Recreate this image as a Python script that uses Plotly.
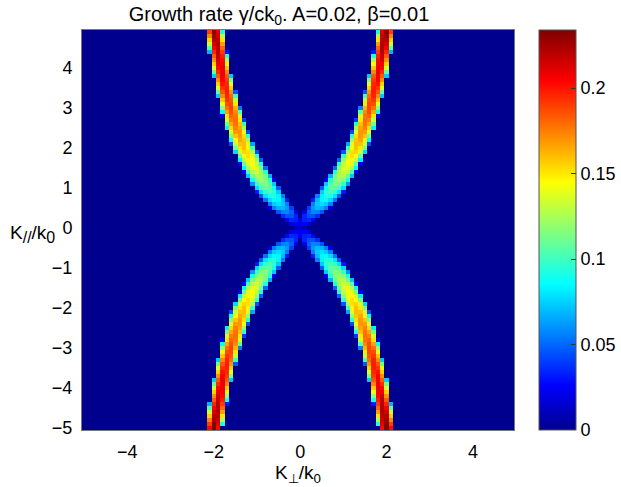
import numpy as np
import plotly.graph_objects as go

# Grid of wavenumbers (as in the original imagesc)
K_PERP = np.round(np.arange(-5.0, 5.0, 0.1), 2)
K_PAR = np.round(np.arange(-5.0, 5.0, 0.1), 2)

# Ridge description, as a function of |K_par|
KPAR_NODES = [0.0, 0.25, 0.5, 1.0, 1.5, 2.0, 2.5, 3.0, 3.5, 4.0, 4.5, 5.0]
RIDGE_CENTER = [0.0, 0.21, 0.43, 0.78, 1.07, 1.31, 1.48, 1.62, 1.74, 1.84, 1.92, 2.00]
RIDGE_PEAK = [0.015, 0.04, 0.07, 0.11, 0.14, 0.16, 0.175, 0.19, 0.201, 0.212, 0.223, 0.234]
RIDGE_HALFWIDTH = [0.15, 0.22, 0.28, 0.31, 0.29, 0.27, 0.25, 0.23, 0.22, 0.21, 0.205, 0.20]

CBAR_TICKS = [0, 0.05, 0.1, 0.15, 0.2]
CBAR_TEXT = ["0", "0.05", "0.1", "0.15", "0.2"]
X_TICKS = [-4, -2, 0, 2, 4]
Y_TICKS = [-5, -4, -3, -2, -1, 0, 1, 2, 3, 4]

Z = []
for kp in K_PAR:
    a = abs(kp)
    c = np.interp(a, KPAR_NODES, RIDGE_CENTER)
    p = np.interp(a, KPAR_NODES, RIDGE_PEAK)
    w = np.interp(a, KPAR_NODES, RIDGE_HALFWIDTH)
    u = (np.abs(K_PERP) - c) / w
    Z.append(p * np.sqrt(np.clip(1 - u ** 2, 0, None)))
Z = np.array(Z)

jet = [
    [0.0, "rgb(0,0,143)"],
    [0.111, "rgb(0,0,255)"],
    [0.365, "rgb(0,255,255)"],
    [0.619, "rgb(255,255,0)"],
    [0.873, "rgb(255,0,0)"],
    [1.0, "rgb(128,0,0)"],
]

FONT = "Liberation Sans, Arial, sans-serif"
MINUS = "\u2212"

fig = go.Figure(
    go.Heatmap(
        x=K_PERP,
        y=K_PAR,
        z=Z,
        zmin=0,
        zmax=0.234,
        colorscale=jet,
        colorbar=dict(
            x=(539 - 82) / 432,
            xanchor="left",
            xpad=0,
            ypad=0,
            y=0.5,
            yanchor="middle",
            len=1.0,
            lenmode="fraction",
            thickness=37,
            tickvals=CBAR_TICKS,
            ticktext=CBAR_TEXT,
            ticks="inside",
            ticklen=5,
            tickcolor="#333",
            outlinewidth=1,
            outlinecolor="#555",
            tickfont=dict(size=18, family=FONT, color="black"),
        ),
    )
)

fig.update_layout(
    width=621,
    height=487,
    margin=dict(l=82, r=107, t=30, b=57, autoexpand=False),
    paper_bgcolor="white",
    plot_bgcolor="white",
    font=dict(family=FONT, size=18, color="black"),
    title=dict(
        text="Growth rate γ/ck<sub>0</sub>. A=0.02, β=0.01",
        x=0.456,
        xref="paper",
        xanchor="center",
        y=1 - 14 / 487,
        yref="container",
        yanchor="middle",
        font=dict(size=20, family=FONT, color="black"),
    ),
    xaxis=dict(
        range=[-5.05, 4.95],
        tickvals=X_TICKS,
        ticktext=[MINUS + "4", MINUS + "2", "0", "2", "4"],
        showgrid=False,
        zeroline=False,
        showline=True,
        mirror=True,
        linecolor="#777",
        linewidth=1,
        ticks="",
        ticklabelstandoff=5,
        tickfont=dict(size=18, family=FONT),
        title=dict(
            text="K<sub>\u22a5</sub>/k<sub>0</sub>",
            standoff=2,
            font=dict(size=19, family=FONT),
        ),
    ),
    yaxis=dict(
        range=[-5.05, 4.95],
        tickvals=Y_TICKS,
        ticktext=[(MINUS + str(-v)) if v < 0 else str(v) for v in Y_TICKS],
        showgrid=False,
        zeroline=False,
        showline=True,
        mirror=True,
        linecolor="#777",
        linewidth=1,
        ticks="",
        ticklabelstandoff=5,
        tickfont=dict(size=18, family=FONT),
    ),
    annotations=[
        dict(
            text="K<sub><span style='font-size:16px'>//</span></sub>/k<sub><span style='font-size:16px'>0</span></sub>",
            xref="paper",
            yref="y",
            x=-(82 - 57) / 432,
            y=-0.15,
            xanchor="right",
            yanchor="middle",
            showarrow=False,
            font=dict(size=19, family=FONT, color="black"),
        )
    ],
)

fig.write_html("out.html")
